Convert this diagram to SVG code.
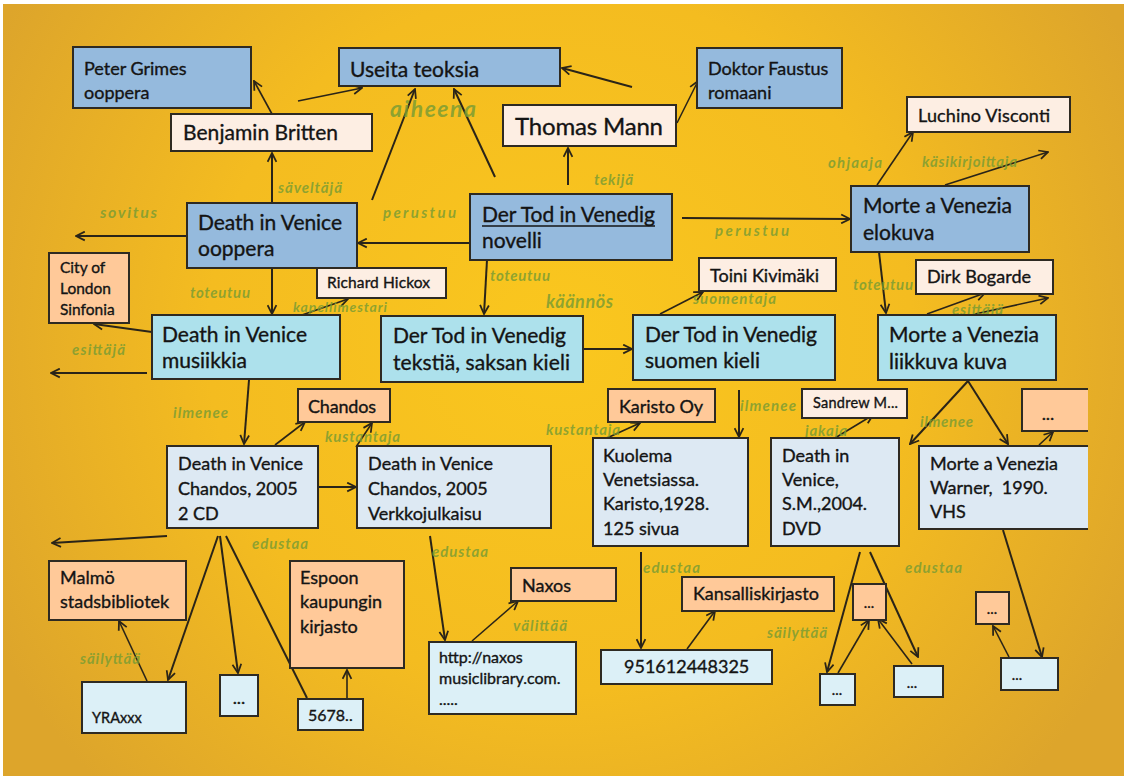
<svg xmlns="http://www.w3.org/2000/svg" width="1127" height="780" viewBox="0 0 1127 780">
<defs>
<radialGradient id="bg" cx="560" cy="340" r="640" gradientUnits="userSpaceOnUse">
<stop offset="0" stop-color="#FAC71E"/>
<stop offset="0.55" stop-color="#F4BC20"/>
<stop offset="1" stop-color="#DDA52B"/>
</radialGradient>
<marker id="a" viewBox="0 0 10 10" refX="9" refY="5" markerWidth="11" markerHeight="11" markerUnits="userSpaceOnUse" orient="auto">
<path d="M1,1 L9,5 L1,9" fill="none" stroke="#2a2418" stroke-width="1.6"/>
</marker>
<style>
text{font-family:Lato,"Open Sans","Liberation Sans",sans-serif;fill:#141414;stroke:#141414;stroke-width:0.35}
.box{stroke:#2e2a22;stroke-width:2}
.w{fill:#95BADD}
.e{fill:#ADE1EC}
.m{fill:#DDE9F3}
.p{fill:#FDEEE3}
.o{fill:#FFC999}
.i{fill:#DCF0F7}
.c line,.c path{stroke:#2a2418;stroke-width:2;fill:none}
.c .t{stroke-width:1.6}
text.lab{font-style:italic;font-weight:bold;fill:#7C9D33;fill-opacity:0.85;stroke:none;font-size:15px}
.f20{font-size:21px}
.f16{font-size:18px}
.f15{font-size:18px}
.f14{font-size:15.5px}
.f13{font-size:14.5px}
</style>
</defs>
<rect x="0" y="0" width="1127" height="780" fill="#ffffff"/>
<rect x="3" y="4" width="1121" height="772" fill="url(#bg)"/>

<g id="connectors" class="c">
<line x1="272" y1="114" x2="254" y2="81" class="t" marker-end="url(#a)"/>
<line x1="298" y1="101" x2="362" y2="88" class="t" marker-end="url(#a)"/>
<line x1="272" y1="203" x2="272" y2="153" marker-end="url(#a)"/>
<line x1="372" y1="200" x2="415" y2="89" marker-end="url(#a)"/>
<line x1="495" y1="177" x2="454" y2="89" marker-end="url(#a)"/>
<line x1="632" y1="87" x2="562" y2="68" marker-end="url(#a)"/>
<line x1="677" y1="123" x2="698" y2="81" class="t" marker-end="url(#a)"/>
<line x1="568" y1="185" x2="568" y2="148" marker-end="url(#a)"/>
<line x1="470" y1="243" x2="358" y2="243" marker-end="url(#a)"/>
<line x1="682" y1="218" x2="850" y2="219" marker-end="url(#a)"/>
<line x1="187" y1="236" x2="76" y2="236" marker-end="url(#a)"/>
<line x1="877" y1="185" x2="913" y2="132" class="t" marker-end="url(#a)"/>
<line x1="945" y1="185" x2="1048" y2="152" class="t" marker-end="url(#a)"/>
<line x1="879" y1="252" x2="886" y2="313" marker-end="url(#a)"/>
<line x1="272" y1="268" x2="272" y2="314" marker-end="url(#a)"/>
<line x1="487" y1="260" x2="484" y2="314" marker-end="url(#a)"/>
<line x1="302" y1="315" x2="348" y2="299" class="t" marker-end="url(#a)"/>
<line x1="152" y1="332" x2="94" y2="324" marker-end="url(#a)"/>
<line x1="147" y1="373" x2="51" y2="373" marker-end="url(#a)"/>
<line x1="249" y1="380" x2="244" y2="444" marker-end="url(#a)"/>
<line x1="275" y1="445" x2="305" y2="422" class="t" marker-end="url(#a)"/>
<line x1="356" y1="447" x2="372" y2="423" class="t" marker-end="url(#a)"/>
<line x1="318" y1="487" x2="356" y2="487" marker-end="url(#a)"/>
<line x1="583" y1="349" x2="632" y2="349" marker-end="url(#a)"/>
<line x1="660" y1="314" x2="703" y2="292" class="t" marker-end="url(#a)"/>
<line x1="739" y1="390" x2="739" y2="437" marker-end="url(#a)"/>
<line x1="607" y1="438" x2="640" y2="423" class="t" marker-end="url(#a)"/>
<line x1="835" y1="438" x2="873" y2="415" class="t" marker-end="url(#a)"/>
<line x1="927" y1="314" x2="985" y2="293" class="t" marker-end="url(#a)"/>
<line x1="975" y1="314" x2="1048" y2="298" class="t" marker-end="url(#a)"/>
<line x1="968" y1="381" x2="910" y2="444" marker-end="url(#a)"/>
<line x1="968" y1="381" x2="1008" y2="444" marker-end="url(#a)"/>
<line x1="1039" y1="445" x2="1053" y2="432" class="t" marker-end="url(#a)"/>
<line x1="167" y1="536" x2="52" y2="543" marker-end="url(#a)"/>
<line x1="218" y1="536" x2="168" y2="680" marker-end="url(#a)"/>
<line x1="220" y1="536" x2="238" y2="673" marker-end="url(#a)"/>
<line x1="226" y1="536" x2="307" y2="698"/>
<line x1="147" y1="681" x2="119" y2="621" class="t" marker-end="url(#a)"/>
<line x1="347" y1="698" x2="347" y2="670" class="t" marker-end="url(#a)"/>
<line x1="430" y1="536" x2="445" y2="640" marker-end="url(#a)"/>
<line x1="472" y1="641" x2="518" y2="601" class="t" marker-end="url(#a)"/>
<line x1="641" y1="552" x2="641" y2="648" marker-end="url(#a)"/>
<line x1="687" y1="649" x2="715" y2="611" class="t" marker-end="url(#a)"/>
<line x1="860" y1="552" x2="827" y2="672" marker-end="url(#a)"/>
<line x1="870" y1="552" x2="918" y2="657" marker-end="url(#a)"/>
<line x1="838" y1="673" x2="869" y2="620" class="t" marker-end="url(#a)"/>
<line x1="912" y1="664" x2="878" y2="619" class="t" marker-end="url(#a)"/>
<line x1="1003" y1="530" x2="1042" y2="657" marker-end="url(#a)"/>
<line x1="1009" y1="657" x2="993" y2="626" class="t" marker-end="url(#a)"/>
</g>

<g id="labels">
<text class="lab" x="390" y="117" style="font-size:23px" textLength="86">aiheena</text>
<text class="lab" x="278" y="193" textLength="64">säveltäjä</text>
<text class="lab" x="100" y="218" style="font-size:16px" textLength="57">sovitus</text>
<text class="lab" x="383" y="218" textLength="73">perustuu</text>
<text class="lab" x="594" y="185" textLength="39">tekijä</text>
<text class="lab" x="715" y="236" textLength="74">perustuu</text>
<text class="lab" x="828" y="168" textLength="54">ohjaaja</text>
<text class="lab" x="922" y="167" textLength="95">käsikirjoittaja</text>
<text class="lab" x="190" y="298" textLength="60">toteutuu</text>
<text class="lab" x="293" y="312" style="font-size:14px" textLength="94">kapellimestari</text>
<text class="lab" x="72" y="355" textLength="53">esittäjä</text>
<text class="lab" x="173" y="418" textLength="55">ilmenee</text>
<text class="lab" x="325" y="442" textLength="75">kustantaja</text>
<text class="lab" x="490" y="281" textLength="60">toteutuu</text>
<text class="lab" x="546" y="308" style="font-size:18px" textLength="67">käännös</text>
<text class="lab" x="693" y="304" textLength="83">suomentaja</text>
<text class="lab" x="740" y="411" textLength="56">ilmenee</text>
<text class="lab" x="546" y="435" textLength="74">kustantaja</text>
<text class="lab" x="853" y="290" textLength="60">toteutuu</text>
<text class="lab" x="952" y="315" textLength="51">esittäjä</text>
<text class="lab" x="920" y="427" textLength="53">ilmenee</text>
<text class="lab" x="805" y="436" textLength="42">jakaja</text>
<text class="lab" x="252" y="549" textLength="56">edustaa</text>
<text class="lab" x="80" y="664" textLength="60">säilyttää</text>
<text class="lab" x="432" y="557" textLength="56">edustaa</text>
<text class="lab" x="513" y="631" textLength="54">välittää</text>
<text class="lab" x="643" y="573" textLength="57">edustaa</text>
<text class="lab" x="767" y="638" textLength="60">säilyttää</text>
<text class="lab" x="905" y="573" textLength="57">edustaa</text>
</g>

<g id="n-peter-grimes"><rect class="box w" x="73" y="47" width="178" height="61"/><text class="f16" x="84" y="75">Peter Grimes</text><text class="f16" x="84" y="99">ooppera</text></g>
<g id="n-useita"><rect class="box w" x="339" y="48" width="221" height="38"/><text class="f20" x="350" y="77">Useita teoksia</text></g>
<g id="n-doktor-faustus"><rect class="box w" x="697" y="48" width="145" height="60"/><text class="f16" x="708" y="75">Doktor Faustus</text><text class="f16" x="708" y="99">romaani</text></g>
<g id="n-britten"><rect class="box p" x="171" y="114" width="201" height="37"/><text class="f20" x="183" y="140" textLength="155">Benjamin Britten</text></g>
<g id="n-mann"><rect class="box p" x="503" y="105" width="173" height="41"/><text x="515" y="135" style="font-size:24px" textLength="148">Thomas Mann</text></g>
<g id="n-visconti"><rect class="box p" x="907" y="97" width="163" height="35"/><text class="f16" x="918" y="122" textLength="132">Luchino Visconti</text></g>
<g id="n-dv-ooppera"><rect class="box w" x="187" y="203" width="170" height="65"/><text class="f20" x="198" y="230" textLength="144">Death in Venice</text><text class="f20" x="198" y="256">ooppera</text></g>
<g id="n-novelli"><rect class="box w" x="470" y="194" width="202" height="66"/><text class="f20" x="482" y="222" textLength="173">Der Tod in Venedig</text><line x1="482" y1="226" x2="655" y2="226" stroke="#141414" stroke-width="1.5"/><text class="f20" x="482" y="248">novelli</text></g>
<g id="n-elokuva"><rect class="box w" x="851" y="186" width="178" height="66"/><text class="f20" x="863" y="213" textLength="149">Morte a Venezia</text><text class="f20" x="863" y="240">elokuva</text></g>
<g id="n-london"><rect class="box o" x="49" y="253" width="80" height="70"/><text class="f14" x="60" y="273">City of</text><text class="f14" x="60" y="294">London</text><text class="f14" x="60" y="315">Sinfonia</text></g>
<g id="n-hickox"><rect class="box p" x="317" y="268" width="129" height="30"/><text class="f14" x="327" y="288" textLength="103">Richard Hickox</text></g>
<g id="n-kivimaki"><rect class="box p" x="699" y="258" width="137" height="33"/><text class="f16" x="710" y="282" textLength="109">Toini Kivimäki</text></g>
<g id="n-bogarde"><rect class="box p" x="916" y="260" width="137" height="34"/><text class="f16" x="927" y="283" textLength="104">Dirk Bogarde</text></g>
<g id="n-musiikkia"><rect class="box e" x="152" y="315" width="188" height="64"/><text class="f20" x="162" y="342" textLength="145">Death in Venice</text><text class="f20" x="162" y="368">musiikkia</text></g>
<g id="n-saksa"><rect class="box e" x="381" y="316" width="202" height="66"/><text class="f20" x="393" y="343" textLength="173">Der Tod in Venedig</text><text class="f20" x="393" y="370" textLength="177">tekstiä, saksan kieli</text></g>
<g id="n-suomi"><rect class="box e" x="633" y="315" width="202" height="65"/><text class="f20" x="645" y="342" textLength="172">Der Tod in Venedig</text><text class="f20" x="645" y="368">suomen kieli</text></g>
<g id="n-liikkuva"><rect class="box e" x="878" y="315" width="178" height="65"/><text class="f20" x="889" y="342" textLength="150">Morte a Venezia</text><text class="f20" x="889" y="369">liikkuva kuva</text></g>
<g id="n-chandos"><rect class="box o" x="298" y="389" width="92" height="33"/><text class="f16" x="308" y="413" textLength="68">Chandos</text></g>
<g id="n-karisto"><rect class="box o" x="608" y="389" width="107" height="33"/><text class="f16" x="619" y="413" textLength="84">Karisto Oy</text></g>
<g id="n-sandrew"><rect class="box p" x="802" y="389" width="105" height="29"/><text class="f13" x="813" y="408" textLength="85">Sandrew M...</text></g>
<g id="n-dots1"><path class="box o" d="M1088,389 H1022 V431 H1088"/><text class="f16" x="1048" y="420" text-anchor="middle">...</text></g>
<g id="n-2cd"><rect class="box m" x="167" y="446" width="151" height="82"/><text class="f16" x="178" y="470" textLength="125">Death in Venice</text><text class="f16" x="178" y="495">Chandos, 2005</text><text class="f16" x="178" y="520">2 CD</text></g>
<g id="n-verkko"><rect class="box m" x="357" y="446" width="194" height="82"/><text class="f16" x="368" y="470" textLength="125">Death in Venice</text><text class="f16" x="368" y="495">Chandos, 2005</text><text class="f16" x="368" y="520">Verkkojulkaisu</text></g>
<g id="n-kuolema"><rect class="box m" x="593" y="438" width="155" height="108"/><text class="f16" x="603" y="462">Kuolema</text><text class="f16" x="603" y="486">Venetsiassa.</text><text class="f16" x="603" y="510">Karisto,1928.</text><text class="f16" x="603" y="535">125 sivua</text></g>
<g id="n-dvd"><rect class="box m" x="771" y="438" width="128" height="108"/><text class="f16" x="782" y="462">Death in</text><text class="f16" x="782" y="486">Venice,</text><text class="f16" x="782" y="510">S.M.,2004.</text><text class="f16" x="782" y="535">DVD</text></g>
<g id="n-warner"><path class="box m" d="M1088,446 H919 V529 H1088"/><text class="f16" x="930" y="470">Morte a Venezia</text><text class="f16" x="930" y="494" xml:space="preserve">Warner,  1990.</text><text class="f16" x="930" y="518">VHS</text></g>
<g id="n-malmo"><rect class="box o" x="49" y="561" width="137" height="59"/><text class="f16" x="60" y="584">Malmö</text><text class="f16" x="60" y="608">stadsbibliotek</text></g>
<g id="n-espoo"><rect class="box o" x="290" y="561" width="114" height="107"/><text class="f16" x="300" y="584">Espoon</text><text class="f16" x="300" y="608">kaupungin</text><text class="f16" x="300" y="633">kirjasto</text></g>
<g id="n-naxos"><rect class="box o" x="511" y="568" width="105" height="33"/><text class="f15" x="522" y="592">Naxos</text></g>
<g id="n-kansalli"><rect class="box o" x="682" y="577" width="152" height="34"/><text class="f15" x="693" y="600">Kansalliskirjasto</text></g>
<g id="n-dots2"><rect class="box o" x="853" y="584" width="33" height="36"/><text class="f13" x="869" y="608" text-anchor="middle">...</text></g>
<g id="n-dots3"><rect class="box o" x="976" y="592" width="33" height="32"/><text class="f13" x="992" y="614" text-anchor="middle">...</text></g>
<g id="n-yra"><rect class="box i" x="82" y="682" width="104" height="51"/><text class="f13" x="92" y="723">YRAxxx</text></g>
<g id="n-dots4"><rect class="box i" x="220" y="675" width="38" height="41"/><text class="f15" x="239" y="704" text-anchor="middle">...</text></g>
<g id="n-5678"><rect class="box i" x="298" y="699" width="65" height="31"/><text x="308" y="721" style="font-size:16px">5678..</text></g>
<g id="n-http"><rect class="box i" x="429" y="642" width="147" height="72"/><text x="439" y="663" style="font-size:16px">http://naxos</text><text x="439" y="684" style="font-size:16px">musiclibrary.com.</text><text x="439" y="705" style="font-size:16px">.....</text></g>
<g id="n-isbn"><rect class="box i" x="601" y="650" width="171" height="34"/><text class="f16" x="624" y="673">951612448325</text></g>
<g id="n-dots5"><rect class="box i" x="820" y="674" width="35" height="31"/><text class="f13" x="837" y="695" text-anchor="middle">...</text></g>
<g id="n-dots6"><rect class="box i" x="894" y="666" width="49" height="31"/><text class="f13" x="912" y="688" text-anchor="middle">...</text></g>
<g id="n-dots7"><rect class="box i" x="1001" y="658" width="57" height="32"/><text class="f13" x="1017" y="680" text-anchor="middle">...</text></g>
</svg>
